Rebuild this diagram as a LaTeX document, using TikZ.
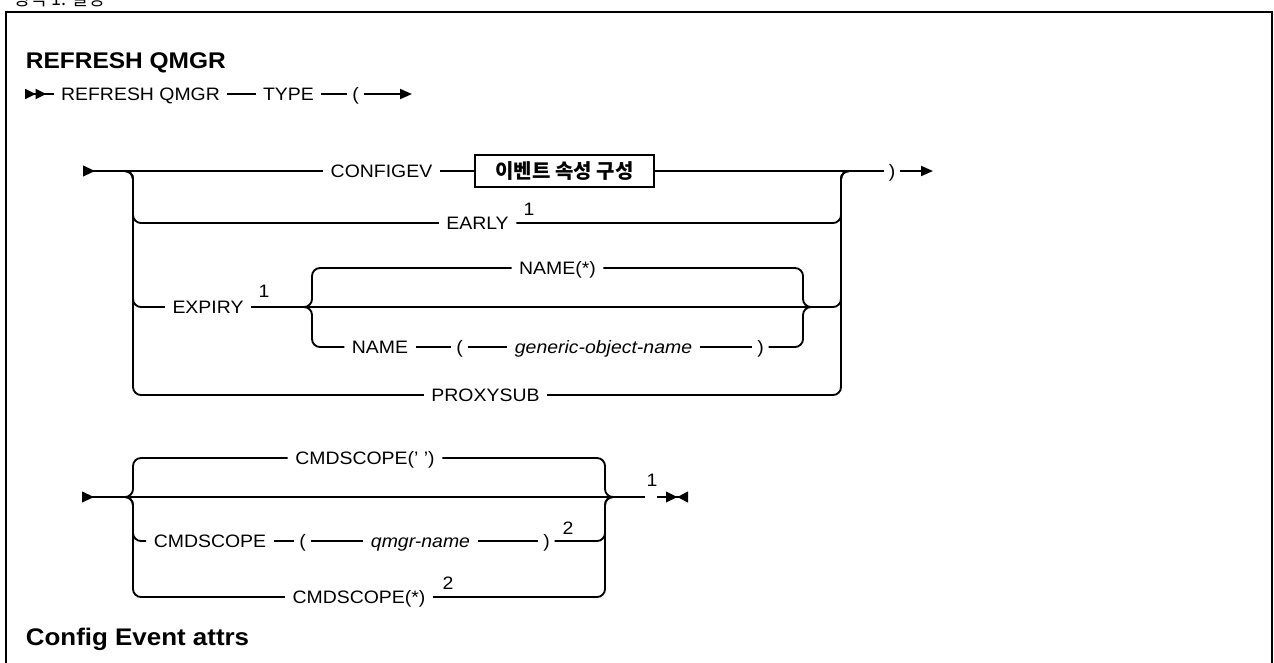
\documentclass[tikz,border=0pt]{standalone}
\usepackage{fontspec}
\setmainfont{Liberation Sans}[FakeStretch=1.08]
\newfontfamily\kofont{Noto Sans CJK KR}
\usetikzlibrary{arrows.meta}

\begin{document}
\begin{tikzpicture}[x=0.75pt,y=-0.75pt,line width=1.4pt,
    kw/.style={inner xsep=5pt,inner ysep=0pt,text height=9.75pt,text depth=0pt,font=\fontsize{13.5}{16}\selectfont},
    var/.style={kw,font=\fontsize{13.5}{16}\selectfont\itshape},
    par/.style={kw,inner xsep=3pt},
    note/.style={inner sep=0pt,font=\fontsize{13.5}{15}\selectfont},
    rc/.style={rounded corners=6pt},
    go/.style={-{Triangle[length=9pt,width=7.5pt]}},
    entry/.style={{Triangle[reversed,length=9pt,width=8pt]}-}]
\useasboundingbox (0,0) rectangle (1274,662);
\draw[line width=2pt] (6,700) |- (1272,12) -- (1272,700);
\node[anchor=base west,inner sep=0pt,font=\kofont\fontsize{13.5}{15}\selectfont] (cap) at (13,5.5) {형식 1. 설명};
\node[anchor=base west,inner sep=0pt,font=\fontsize{17}{20}\selectfont\bfseries] (title) at (25,68) {REFRESH QMGR};

% first line
\coordinate (l1s) at (25,94);
\coordinate (l1e) at (412,94);
\node[kw] (refresh) at (140.5,94) {REFRESH QMGR};
\node[kw] (type) at (288.5,94) {TYPE};
\node[par] (lp1) at (355.5,94) {(};
\draw[{Triangle[reversed,length=8pt,width=7.5pt]Triangle[reversed,length=8pt,width=7.5pt]}-] (l1s) -- (refresh);
\draw (refresh) -- (type) -- (lp1);
\draw[go] (lp1) -- (l1e);

% type choices
\coordinate (b1s) at (83,171);
\coordinate (L1) at (133,171);
\coordinate (R1) at (841,171);
\coordinate (b1e) at (933,171);
\node[kw] (configev) at (381.5,171) {CONFIGEV};
\node[draw,line width=1.2pt,minimum width=134.25pt,minimum height=24pt,inner sep=0pt,font=\kofont\bfseries\fontsize{15}{17}\selectfont] (evbox) at (564.5,171) {이벤트 속성 구성};
\node[par] (rp1) at (892,171) {)};
\node[kw] (early) at (477.5,223) {EARLY};
\node[note] (early-n) at (529,209) {1};
\node[kw] (expiry) at (208,307) {EXPIRY};
\node[note] (expiry-n) at (264,291) {1};
\node[kw] (proxysub) at (485.5,395) {PROXYSUB};
\draw[entry] (b1s) -- (configev);
\draw (configev) -- (evbox) -- (rp1);
\draw[go] (rp1) -- (b1e);
\foreach \row in {early,expiry,proxysub}{
  \draw[rc] ([xshift=-6pt]L1) -- (L1) |- (\row.west);
  \draw[rc] (\row.east) -| (R1) -- ([xshift=6pt]R1);
}

% expiry names
\coordinate (SL) at (312,307);
\coordinate (SR) at (803,307);
\node[kw] (namestar) at (557.5,268) {NAME(*)};
\node[kw] (name) at (380,347) {NAME};
\node[par] (lp2) at (459.5,347) {(};
\node[var] (gon) at (603.5,347) {generic-object-name};
\node[par] (rp2) at (760.5,347) {)};
\draw (name) -- (lp2) -- (gon) -- (rp2);
\draw[rc] ([xshift=-6pt]SL) -- (SL) |- (namestar.west);
\draw[rc] ([xshift=-6pt]SL) -- (SL) |- (name.west);
\draw[rc] (namestar.east) -| (SR) -- ([xshift=6pt]SR);
\draw[rc] (rp2.east) -| (SR) -- ([xshift=6pt]SR);

% cmdscope
\coordinate (b2s) at (82,497);
\coordinate (L2) at (133,497);
\coordinate (R2) at (605,497);
\coordinate (b2a) at (645,497);
\coordinate (b2b) at (657,497);
\coordinate (b2e) at (688,497);
\node[kw] (cs1) at (365,458) {CMDSCOPE(' ')};
\node[kw] (cs2) at (210,541) {CMDSCOPE};
\node[par] (lp3) at (302.5,541) {(};
\node[var] (qmgr) at (420.5,541) {qmgr-name};
\node[par] (rp3) at (546.5,541) {)};
\node[note] (qmgr-n) at (568,528.5) {2};
\node[kw] (cs3) at (359,597) {CMDSCOPE(*)};
\node[note] (cs3-n) at (448,583.5) {2};
\node[note] (end-n) at (652,480) {1};
\draw[entry] (b2s) -- (b2a);
\draw[-{Triangle[length=8.5pt,width=8pt]Triangle[reversed,length=8pt,width=8pt]}] (b2b) -- (b2e);
\draw (cs2) -- (lp3) -- (qmgr) -- (rp3);
\draw[rc] ([xshift=-6pt]L2) -- (L2) |- (cs1.west);
\draw[rc] ([xshift=-6pt]L2) -- (L2) |- (cs2.west);
\draw[rc] ([xshift=-6pt]L2) -- (L2) |- (cs3.west);
\draw[rc] (cs1.east) -| (R2) -- ([xshift=6pt]R2);
\draw[rc] (rp3.east) -| (R2) -- ([xshift=6pt]R2);
\draw[rc] (cs3.east) -| (R2) -- ([xshift=6pt]R2);

\node[anchor=base west,inner sep=0pt,font=\fontsize{18}{22}\selectfont\bfseries] (cfgtitle) at (25,645) {Config Event attrs};
\end{tikzpicture}
\end{document}
